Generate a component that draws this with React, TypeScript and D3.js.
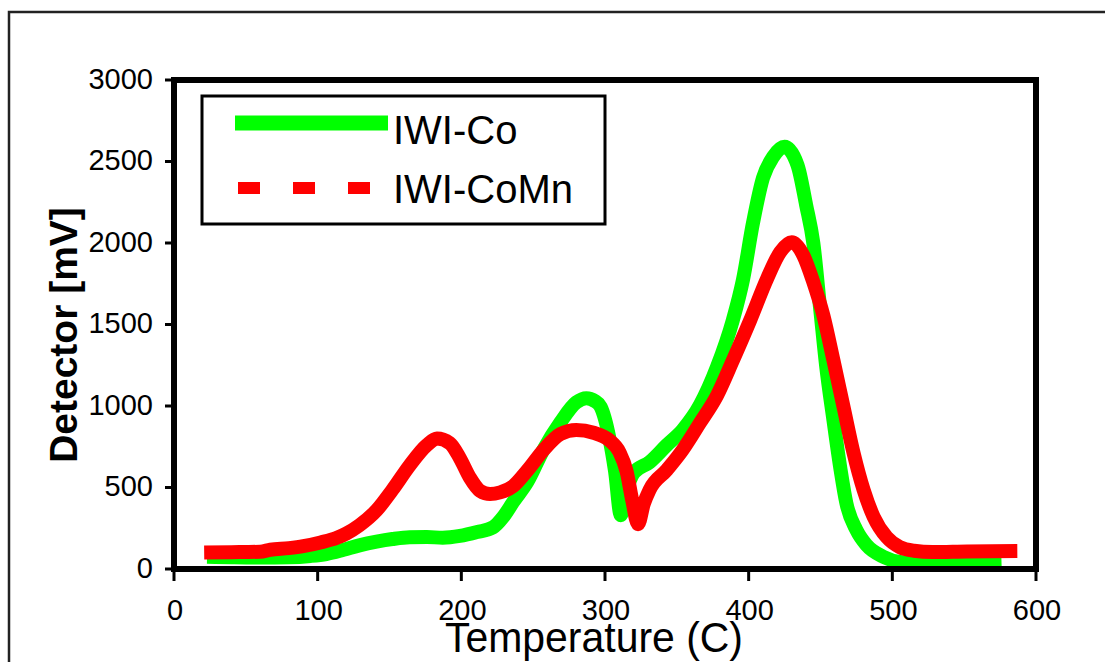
import React from "react";
import * as d3 from "d3";

// Temperature (C) vs Detector (mV)
const coTemps = [23, 40, 60, 80, 95, 106, 118, 129, 141, 152, 164, 176, 187, 199, 211, 222, 229, 236, 246, 257, 269, 280, 287, 293, 297, 303, 307, 311, 315, 320, 331, 343, 354, 366, 378, 389, 396, 403, 410, 417, 425, 434, 440, 445, 450, 454, 459, 464, 468, 475, 482, 494, 505, 528, 576];
const coValues = [75, 72, 70, 72, 80, 92, 118, 145, 168, 184, 195, 196, 192, 203, 227, 255, 318, 410, 535, 730, 900, 1022, 1048, 1030, 995, 805, 600, 330, 480, 590, 655, 760, 853, 1005, 1240, 1527, 1773, 2123, 2400, 2528, 2590, 2478, 2233, 2000, 1577, 1240, 914, 607, 404, 239, 147, 74, 43, 30, 38];

const coMnTemps = [21, 40, 60, 67, 80, 90, 102, 113, 120, 129, 141, 152, 164, 176, 183, 192, 199, 206, 213, 220, 227, 236, 246, 257, 269, 280, 292, 303, 310, 315, 319, 323, 327, 331, 343, 354, 366, 378, 389, 401, 413, 422, 430, 438, 445, 452, 459, 466, 473, 480, 487, 496, 505, 515, 528, 552, 587];
const coMnValues = [101, 103, 106, 118, 128, 140, 163, 190, 218, 268, 360, 485, 635, 760, 800, 772, 680, 560, 480, 460, 470, 508, 605, 728, 828, 853, 836, 790, 718, 600, 420, 275, 400, 485, 607, 730, 895, 1065, 1280, 1525, 1785, 1945, 2005, 1925, 1760, 1555, 1280, 995, 712, 485, 320, 196, 135, 112, 104, 108, 110];

const xTicks = [0, 100, 200, 300, 400, 500, 600];
const yTicks = [0, 500, 1000, 1500, 2000, 2500, 3000];
const seriesNames = ["IWI-Co", "IWI-CoMn"];

const FONT = "'Liberation Sans', Arial, sans-serif";

export default function App() {
  const left = 174, right = 1036, top = 80, bottom = 569;
  const x = d3.scaleLinear().domain([0, 600]).range([left, right]);
  const y = d3.scaleLinear().domain([0, 3000]).range([bottom, top]);

  const line = d3
    .line<[number, number]>()
    .x((d) => x(d[0]))
    .y((d) => y(d[1]))
    .curve(d3.curveMonotoneX);

  const coPts: [number, number][] = coTemps.map((t, i) => [t, coValues[i]]);
  const coMnPts: [number, number][] = coMnTemps.map((t, i) => [t, coMnValues[i]]);

  return (
    <svg
      width={1105}
      height={662}
      style={{ position: "fixed", left: 0, top: 0, background: "#fff" }}
    >
      <rect x={0} y={0} width={1105} height={662} fill="#fff" />
      {/* outer border */}
      <rect x={9} y={12} width={1200} height={700} fill="none" stroke="#222" strokeWidth={2.5} />

      {/* series */}
      <path d={line(coPts) || ""} fill="none" stroke="#00ff00" strokeWidth={14} strokeLinejoin="round" />
      <path d={line(coMnPts) || ""} fill="none" stroke="#ff0000" strokeWidth={14} strokeLinejoin="round" />

      {/* frame */}
      <rect x={left} y={top} width={right - left} height={bottom - top} fill="none" stroke="#000" strokeWidth={6} />

      {/* y ticks */}
      {yTicks.map((t) => (
        <g key={"y" + t}>
          <line x1={165} x2={left} y1={y(t)} y2={y(t)} stroke="#000" strokeWidth={3} />
          <text
            x={153}
            y={y(t) + 8.5}
            textAnchor="end"
            fontFamily={FONT}
            fontSize={29}
            fill="#000"
          >
            {t}
          </text>
        </g>
      ))}

      {/* x ticks */}
      {xTicks.map((t) => (
        <g key={"x" + t}>
          <line x1={x(t)} x2={x(t)} y1={bottom} y2={581} stroke="#000" strokeWidth={3} />
          <text
            x={x(t) + 1}
            y={620}
            textAnchor="middle"
            fontFamily={FONT}
            fontSize={29}
            fill="#000"
          >
            {t}
          </text>
        </g>
      ))}

      {/* axis titles */}
      <text
        x={594}
        y={652}
        textAnchor="middle"
        fontFamily={FONT}
        fontSize={42}
        fill="#000"
        textLength={298}
        lengthAdjust="spacingAndGlyphs"
      >
        Temperature (C)
      </text>
      <text
        transform="translate(77,335) rotate(-90)"
        textAnchor="middle"
        fontFamily={FONT}
        fontSize={39}
        fontWeight="bold"
        fill="#000"
      >
        Detector [mV]
      </text>

      {/* legend */}
      <rect x={202} y={96} width={403} height={128} fill="#fff" stroke="#000" strokeWidth={3} />
      <line x1={235} x2={388} y1={123} y2={123} stroke="#00ff00" strokeWidth={15} />
      <line
        x1={238}
        x2={374}
        y1={188}
        y2={188}
        stroke="#ff0000"
        strokeWidth={12}
        strokeDasharray="22 33"
      />
      <text x={393} y={144} fontFamily={FONT} fontSize={40} fill="#000">
        {seriesNames[0]}
      </text>
      <text x={393} y={203} fontFamily={FONT} fontSize={40} fill="#000">
        {seriesNames[1]}
      </text>
    </svg>
  );
}
